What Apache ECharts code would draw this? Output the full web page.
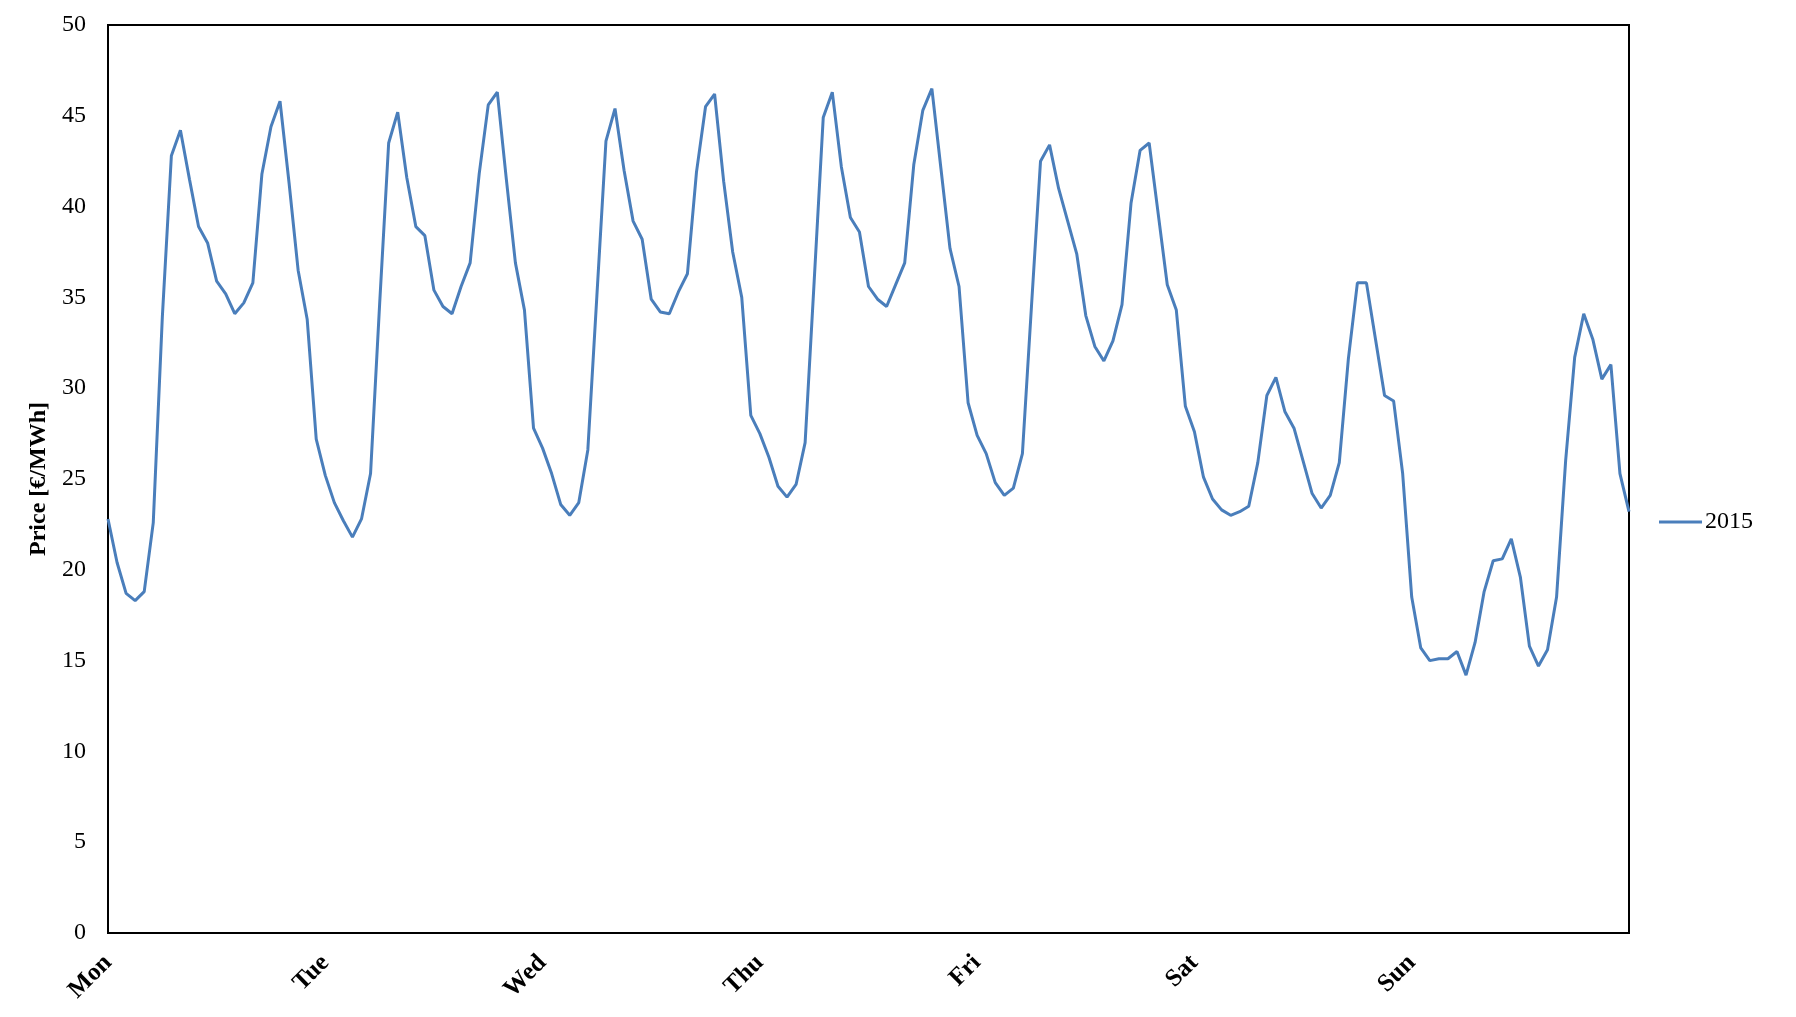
<!DOCTYPE html>
<html>
<head>
<meta charset="utf-8">
<title>Price 2015</title>
<script src="https://cdn.jsdelivr.net/npm/echarts@6/dist/echarts.min.js"></script>
<style>
  html, body { margin: 0; padding: 0; background: #fff; }
</style>
</head>
<body>
<div id="main" style="width: 1796px;height:1017px;"></div>
<script>
// day names shown on the x axis (one label every 24 hours)
const days = ["Mon", "Tue", "Wed", "Thu", "Fri", "Sat", "Sun"];
const hoursPerDay = 24;

// hourly price [€/MWh], one array per day
const mon = [22.8, 20.4, 18.7, 18.3, 18.8, 22.6, 33.9, 42.8, 44.2, 41.5, 38.9, 38.0,
             35.9, 35.2, 34.1, 34.7, 35.8, 41.8, 44.4, 45.8, 41.3, 36.5, 33.8, 27.2];
const tue = [25.2, 23.7, 22.7, 21.8, 22.8, 25.3, 34.6, 43.5, 45.2, 41.6, 38.9, 38.4,
             35.4, 34.5, 34.1, 35.6, 36.9, 41.8, 45.6, 46.3, 41.5, 36.9, 34.3, 27.8];
const wed = [26.7, 25.3, 23.6, 23.0, 23.7, 26.6, 35.1, 43.6, 45.4, 42.0, 39.2, 38.2,
             34.9, 34.2, 34.1, 35.3, 36.3, 41.9, 45.5, 46.2, 41.4, 37.5, 35.0, 28.5];
const thu = [27.5, 26.2, 24.6, 24.0, 24.7, 27.0, 35.9, 44.9, 46.3, 42.2, 39.4, 38.6,
             35.6, 34.9, 34.5, 35.7, 36.9, 42.3, 45.3, 46.5, 42.1, 37.7, 35.6, 29.2];
const fri = [27.4, 26.4, 24.8, 24.1, 24.5, 26.4, 34.5, 42.5, 43.4, 41.0, 39.2, 37.4,
             34.0, 32.3, 31.5, 32.6, 34.6, 40.2, 43.1, 43.5, 39.6, 35.7, 34.3, 29.0];
const sat = [27.6, 25.1, 23.9, 23.3, 23.0, 23.2, 23.5, 25.9, 29.6, 30.6, 28.7, 27.8,
             26.0, 24.2, 23.4, 24.1, 25.9, 31.6, 35.8, 35.8, 32.7, 29.6, 29.3, 25.3];
const sun = [18.5, 15.7, 15.0, 15.1, 15.1, 15.5, 14.2, 16.0, 18.8, 20.5, 20.6, 21.7,
             19.6, 15.8, 14.7, 15.6, 18.5, 26.0, 31.7, 34.1, 32.7, 30.5, 31.3, 25.3];
// last point closes the week (next Monday 00:00)
const weekEnd = [23.2];

const prices2015 = [].concat(mon, tue, wed, thu, fri, sat, sun, weekEnd);

// y axis ticks
const yMin = 0;
const yMax = 50;
const yStep = 5;

// category for every hour: "Mon 0", "Mon 1", ...
const categories = [];
days.forEach((d) => {
  for (let h = 0; h < hoursPerDay; h++) categories.push(d + " " + h);
});
categories.push("Mon 0");

const font = "'Liberation Serif', 'Times New Roman', serif";

const chartDom = document.getElementById("main");
const myChart = echarts.init(chartDom, null, { renderer: "canvas" });

const option = {
  backgroundColor: "#fff",
  animation: false,
  grid: {
    left: 108,
    right: 167,
    top: 25,
    bottom: 84,
    show: true,
    borderColor: "#000",
    borderWidth: 2,
    outerBoundsMode: "none",
  },
  legend: {
    data: ["2015"],
    left: 1654,
    top: 505,
    icon: "rect",
    itemWidth: 43,
    itemHeight: 3,
    textStyle: {
      color: "#000",
      fontSize: 24,
      fontFamily: font,
      padding: [0, 0, 0, -2],
    },
  },
  xAxis: {
    type: "category",
    data: categories,
    boundaryGap: false,
    axisLine: { show: true, lineStyle: { color: "#000", width: 2 } },
    axisTick: { show: false },
    splitLine: { show: false },
    axisLabel: {
      rotate: 45,
      margin: 26,
      color: "#000",
      fontSize: 25,
      fontWeight: "bold",
      fontFamily: font,
      verticalAlign: "middle",
      interval: (index) => index % hoursPerDay === 0 && index < days.length * hoursPerDay,
      formatter: (value) => value.split(" ")[0],
    },
  },
  yAxis: {
    type: "value",
    min: yMin,
    max: yMax,
    interval: yStep,
    name: "Price [€/MWh]",
    nameLocation: "middle",
    nameGap: 51,
    nameTextStyle: {
      color: "#000",
      fontSize: 24,
      fontWeight: "bold",
      fontFamily: font,
    },
    axisLine: { show: true, lineStyle: { color: "#000", width: 2 } },
    axisTick: { show: false },
    splitLine: { show: false },
    axisLabel: {
      margin: 22,
      color: "#000",
      fontSize: 24,
      fontFamily: font,
    },
  },
  series: [
    {
      name: "2015",
      type: "line",
      data: prices2015,
      symbol: "none",
      lineStyle: { color: "#4a7ebb", width: 3 },
      itemStyle: { color: "#4a7ebb" },
    },
  ],
};
option && myChart.setOption(option);
</script>
</body>
</html>
